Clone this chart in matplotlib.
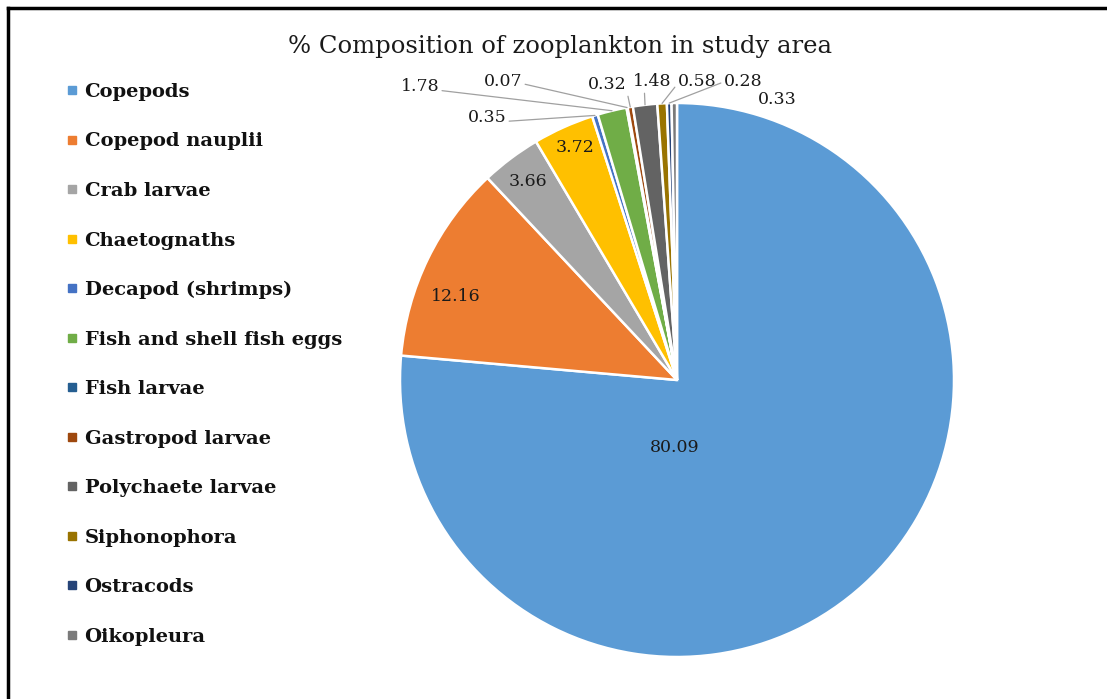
import matplotlib
matplotlib.use('Agg')
import matplotlib.pyplot as plt
from matplotlib.lines import Line2D
import numpy as np

# data
groups = ['Copepods', 'Copepod nauplii', 'Crab larvae', 'Chaetognaths',
          'Decapod (shrimps)', 'Fish and shell fish eggs', 'Fish larvae',
          'Gastropod larvae', 'Polychaete larvae', 'Siphonophora',
          'Ostracods', 'Oikopleura']
percent = [80.09, 12.16, 3.66, 3.72, 0.35, 1.78, 0.07, 0.32, 1.48, 0.58, 0.28, 0.33]
value_labels = ['80.09', '12.16', '3.66', '3.72', '0.35', '1.78', '0.07',
                '0.32', '1.48', '0.58', '0.28', '0.33']

colors = ['#5B9BD5', '#ED7D31', '#A5A5A5', '#FFC000', '#4472C4', '#70AD47',
          '#255E91', '#9E480E', '#636363', '#997300', '#264478', '#7A7A7A']

# label spots (pie radius units) and where the leader line leaves the text
label_pos = [(-0.007, -0.242), (-0.80, 0.30), (-0.538, 0.715), (-0.368, 0.838),
             (-0.686, 0.946), (-0.928, 1.058), (-0.628, 1.076), (-0.253, 1.065),
             (-0.090, 1.076), (0.072, 1.076), (0.238, 1.076), (0.361, 1.011)]
leader = [None, None, None, None, (1, 0.3), (1, 0.3), (1, 0.4), (1, 0.3),
          (0.3, 0), (0, 0.4), (0, 0.5), None]

W, H = 1107, 699
fig = plt.figure(figsize=(W / 100, H / 100), dpi=100)
fig.patch.set_facecolor('white')

cx, cy, r = 677, 380, 277
ax = fig.add_axes([(cx - r) / W, (H - cy - r) / H, 2 * r / W, 2 * r / H])

wedges, _ = ax.pie(percent, colors=colors, startangle=90, counterclock=False,
                   radius=1, wedgeprops=dict(edgecolor='white', linewidth=1.8))
ax.set_xlim(-1, 1)
ax.set_ylim(-1, 1)
ax.axis('off')

lab_font = dict(family='DejaVu Serif', fontsize=12.5, color='#1a1a1a')
for w, txt, pos, rel in zip(wedges, value_labels, label_pos, leader):
    mid = np.deg2rad((w.theta1 + w.theta2) / 2)
    edge = (np.cos(mid), np.sin(mid))
    if rel is None:
        ax.text(pos[0], pos[1], txt, ha='center', va='center', **lab_font)
    else:
        ax.annotate(txt, xy=edge, xytext=pos, ha='center', va='center',
                    arrowprops=dict(arrowstyle='-', color='#a0a0a0', lw=0.9,
                                    shrinkA=0, shrinkB=0, relpos=rel),
                    **lab_font)

fig.text(560 / W, 1 - 46 / H, '% Composition of zooplankton in study area',
         ha='center', va='center', family='DejaVu Serif', fontsize=17.5,
         color='#1a1a1a')

# small square keys like the Excel legend
keys = [Line2D([], [], ls='none', marker='s', markersize=5.2,
               markerfacecolor=c, markeredgecolor=c) for c in colors]
leg = fig.legend(keys, groups, loc='upper left',
                 bbox_to_anchor=(68 / W, 1 - 83 / H), frameon=False,
                 prop=dict(family='DejaVu Serif', weight='bold', size=14),
                 handlelength=0.4, handletextpad=0.45,
                 labelspacing=1.62, borderaxespad=0, borderpad=0)
for t in leg.get_texts():
    t.set_color('#111111')

# frame drawn only along top and left, as in the source image
fig.add_artist(Line2D([8 / W, 1], [1 - 8 / H, 1 - 8 / H], color='black', lw=2.5))
fig.add_artist(Line2D([8 / W, 8 / W], [0, 1 - 8 / H], color='black', lw=2.5))

fig.savefig('out.png', dpi=100, facecolor='white')
